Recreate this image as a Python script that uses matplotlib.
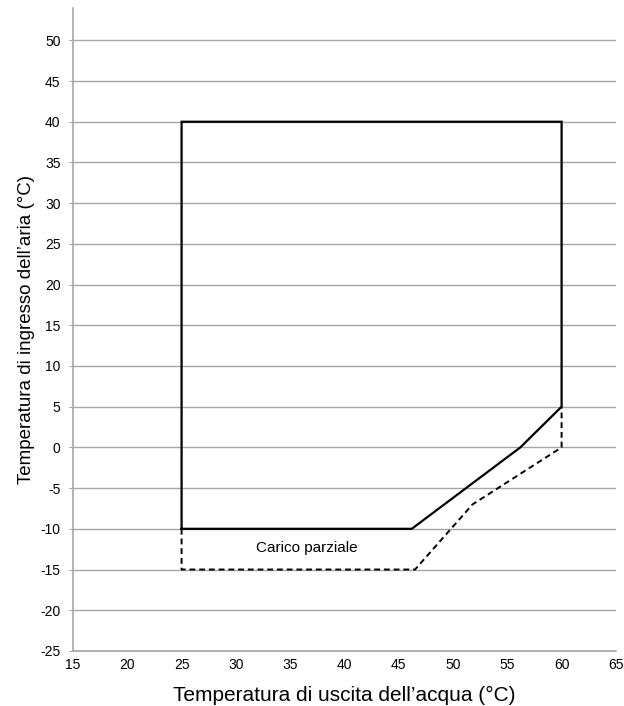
import matplotlib
matplotlib.use("Agg")
import matplotlib.pyplot as plt

# full-load envelope (solid)
full_x = [25, 25, 60, 60, 56.2, 46.2, 25]
full_y = [-10, 40, 40, 5, 0, -10, -10]

# part-load extension (dashed)
part_x = [25, 25, 46.5, 51.8, 60, 60]
part_y = [-10, -15, -15, -7, 0, 5]

x_ticks = list(range(15, 66, 5))
y_ticks = list(range(-25, 51, 5))

plt.rcParams["font.family"] = ["Liberation Sans", "DejaVu Sans"]
plt.rcParams["axes.unicode_minus"] = False

fig = plt.figure(figsize=(6.24, 7.06), dpi=100)
ax = fig.add_axes([0.117, 0.078, 0.870, 0.911])

ax.set_xlim(15, 65)
ax.set_ylim(-25, 54)
ax.set_xticks(x_ticks)
ax.set_yticks(y_ticks)
ax.tick_params(axis="both", labelsize=10, colors="black")
ax.tick_params(axis="x", length=0, pad=5)
ax.tick_params(axis="y", length=3, color="#a6a6a6", pad=6)

ax.grid(axis="y", color="#a6a6a6", linewidth=1)
ax.set_axisbelow(True)
for side in ["top", "right"]:
    ax.spines[side].set_visible(False)
for side in ["left", "bottom"]:
    ax.spines[side].set_color("#a6a6a6")
    ax.spines[side].set_linewidth(1.2)

ax.plot(full_x, full_y, color="black", linewidth=1.6, solid_joinstyle="miter")
ax.plot(part_x, part_y, color="black", linewidth=1.4, linestyle=(0, (3, 2)))

ax.text(36.5, -12.4, "Carico parziale", fontsize=11, ha="center", va="center")

ax.set_xlabel("Temperatura di uscita dell\u2019acqua (\u00b0C)", fontsize=15, labelpad=10)
ax.set_ylabel("Temperatura di ingresso dell\u2019aria (\u00b0C)", fontsize=13.5, labelpad=4)

fig.savefig("out.png", dpi=100)
